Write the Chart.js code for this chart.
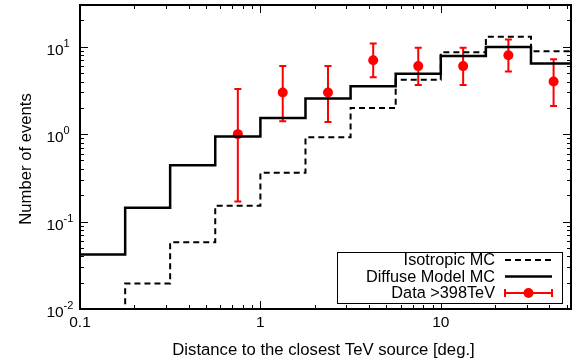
<!DOCTYPE html>
<html>
<head>
<meta charset="utf-8">
<script src="https://cdn.jsdelivr.net/npm/chart.js@4"></script>
<style>
html, body { margin: 0; padding: 0; background: #fff; }
#wrap { width: 579px; height: 364px; }
</style>
</head>
<body>
<div id="wrap"><canvas id="c"></canvas></div>
<script>
// histogram bin edges (deg.)
const binEdges = [0.1, 0.178, 0.316, 0.562, 1, 1.778, 3.162, 5.623, 10, 17.78, 31.62, 56.23];
const diffuseMC = [0.042, 0.144, 0.44, 0.94, 1.53, 2.55, 3.53, 4.9, 7.83, 9.9, 6.42];
const isotropicMC = [0.01, 0.0196, 0.058, 0.152, 0.362, 0.92, 1.99, 4.19, 8.62, 12.97, 8.9];

// measured events with error bars
const dataX = [0.75, 1.33, 2.37, 4.22, 7.5, 13.3, 23.7, 42.2];
const dataY = [1, 3, 3, 7, 6, 6, 8, 4];
const dataLow = [0.17, 1.40, 1.38, 4.46, 3.65, 3.65, 5.21, 2.10];
const dataHigh = [3.29, 6.03, 6.03, 10.9, 9.75, 9.75, 12.1, 7.18];

const xTickValues = [0.1, 1, 10];
const xTickLabels = ['0.1', '1', '10'];
const yTickValues = [0.01, 0.1, 1, 10];
const yTickExponents = ['-2', '-1', '0', '1'];

const FONT = '"Liberation Sans", Arial, sans-serif';

function histPoints(vals) {
    return binEdges.map((e, i) => ({ x: e, y: vals[Math.min(i, vals.length - 1)] }));
}

const decorations = {
    id: 'decorations',
    beforeDatasetsDraw(chart) {
        const { ctx, scales: { x, y } } = chart;
        ctx.save();
        ctx.strokeStyle = '#ff0000';
        ctx.lineWidth = 2;
        dataX.forEach((v, i) => {
            const px = x.getPixelForValue(v);
            const top = y.getPixelForValue(dataHigh[i]);
            const bot = y.getPixelForValue(dataLow[i]);
            ctx.beginPath();
            ctx.moveTo(px, top); ctx.lineTo(px, bot);
            ctx.moveTo(px - 3.5, top); ctx.lineTo(px + 3.5, top);
            ctx.moveTo(px - 3.5, bot); ctx.lineTo(px + 3.5, bot);
            ctx.stroke();
        });
        ctx.restore();
    },
    afterDraw(chart) {
        const { ctx, chartArea: a, scales: { x, y } } = chart;
        ctx.save();
        ctx.strokeStyle = '#000';
        ctx.fillStyle = '#000';

        // ticks on all four sides, pointing inward
        ctx.lineWidth = 1;
        ctx.beginPath();
        for (let d = -1; d <= 1; d++) {
            for (let k = 1; k <= 9; k++) {
                const v = k * Math.pow(10, d);
                if (v < x.min || v > x.max) continue;
                const px = Math.round(x.getPixelForValue(v)) + 0.5;
                const len = k === 1 ? 8 : 4;
                ctx.moveTo(px, a.bottom); ctx.lineTo(px, a.bottom - len);
                ctx.moveTo(px, a.top); ctx.lineTo(px, a.top + len);
            }
        }
        for (let d = -2; d <= 1; d++) {
            for (let k = 1; k <= 9; k++) {
                const v = k * Math.pow(10, d);
                if (v < y.min || v > y.max) continue;
                const py = Math.round(y.getPixelForValue(v)) + 0.5;
                const len = k === 1 ? 8 : 4;
                ctx.moveTo(a.left, py); ctx.lineTo(a.left + len, py);
                ctx.moveTo(a.right, py); ctx.lineTo(a.right - len, py);
            }
        }
        ctx.stroke();

        // frame
        ctx.lineWidth = 2;
        ctx.strokeRect(a.left, a.top, a.right - a.left, a.bottom - a.top);

        // x tick labels
        ctx.font = '15.5px ' + FONT;
        ctx.textAlign = 'center';
        ctx.textBaseline = 'middle';
        xTickValues.forEach((v, i) => {
            ctx.fillText(xTickLabels[i], x.getPixelForValue(v), 323);
        });

        // y tick labels: 10 with exponent
        yTickValues.forEach((v, i) => {
            const py = y.getPixelForValue(v);
            ctx.font = '15.5px ' + FONT;
            ctx.textAlign = 'left';
            ctx.fillText('10', 46.5, py + 4);
            ctx.font = '11px ' + FONT;
            ctx.fillText(yTickExponents[i], 63.5, py - 3);
        });

        // axis titles
        ctx.font = '16.7px ' + FONT;
        ctx.textAlign = 'center';
        ctx.fillText('Distance to the closest TeV source [deg.]', 323.5, 350);
        ctx.save();
        ctx.translate(26, 159);
        ctx.rotate(-Math.PI / 2);
        ctx.fillText('Number of events', 0, 0);
        ctx.restore();

        // legend
        const bx = 337, by = 252, bw = 225, bh = 51;
        ctx.fillStyle = '#fff';
        ctx.fillRect(bx, by, bw, bh);
        ctx.lineWidth = 1;
        ctx.strokeStyle = '#000';
        ctx.strokeRect(bx + 0.5, by + 0.5, bw, bh);
        const rows = [260, 276.5, 293];
        ctx.font = '16.3px ' + FONT;
        ctx.textAlign = 'right';
        ctx.fillStyle = '#000';
        chart.data.datasets.forEach((ds, i) => {
            const ry = rows[i];
            ctx.fillText(ds.label, 495, ry + 1);
            ctx.save();
            ctx.beginPath();
            ctx.strokeStyle = ds.borderColor;
            ctx.lineWidth = ds.borderWidth || 2;
            ctx.setLineDash(ds.borderDash || []);
            ctx.moveTo(505, ry); ctx.lineTo(552, ry);
            if (ds.showLine === false) {
                ctx.moveTo(505, ry - 4); ctx.lineTo(505, ry + 4);
                ctx.moveTo(552, ry - 4); ctx.lineTo(552, ry + 4);
            }
            ctx.stroke();
            if (ds.showLine === false) {
                ctx.fillStyle = ds.backgroundColor;
                ctx.beginPath();
                ctx.arc(528.5, ry, ds.pointRadius, 0, Math.PI * 2);
                ctx.fill();
            }
            ctx.restore();
        });
        ctx.restore();
    }
};

new Chart(document.getElementById('c'), {
    type: 'line',
    data: {
        datasets: [
            {
                label: 'Isotropic MC',
                data: histPoints(isotropicMC),
                stepped: true,
                borderColor: '#000',
                borderWidth: 2,
                borderDash: [6, 4],
                pointRadius: 0,
                fill: false
            },
            {
                label: 'Diffuse Model MC',
                data: histPoints(diffuseMC),
                stepped: true,
                borderColor: '#000',
                borderWidth: 2.5,
                pointRadius: 0,
                fill: false
            },
            {
                label: 'Data >398TeV',
                data: dataX.map((v, i) => ({ x: v, y: dataY[i] })),
                showLine: false,
                borderColor: '#ff0000',
                backgroundColor: '#ff0000',
                borderWidth: 2,
                pointRadius: 5,
                pointBorderWidth: 0
            }
        ]
    },
    options: {
        responsive: true,
        maintainAspectRatio: false,
        animation: false,
        layout: { padding: { left: 80, right: 8, top: 2, bottom: 55 } },
        plugins: { legend: { display: false }, tooltip: { enabled: false } },
        scales: {
            x: { type: 'logarithmic', min: 0.1, max: 52.7, bounds: 'data', display: false },
            y: { type: 'logarithmic', min: 0.01, max: 30, bounds: 'data', display: false }
        }
    },
    plugins: [decorations]
});
</script>
</body>
</html>
